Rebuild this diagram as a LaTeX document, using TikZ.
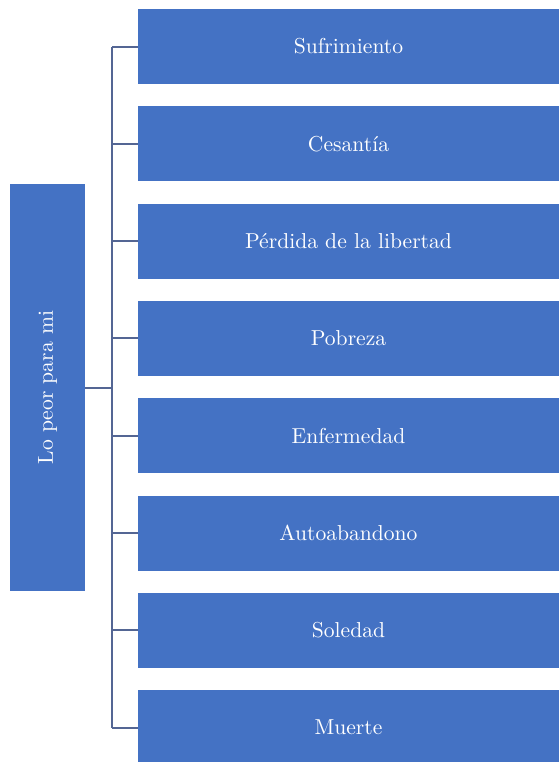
\documentclass[tikz,border=0pt]{standalone}
\usepackage{fontspec}
\usepackage{xcolor}
\usepackage{tikz}
\usetikzlibrary{positioning,calc}

\definecolor{boxblue}{HTML}{4472C4}
\definecolor{linkgray}{RGB}{84,102,148}

\tikzset{
    itembox/.style={fill=boxblue, text=white, inner sep=0pt,
        minimum width=210.5pt, minimum height=37.5pt,
        font=\fontsize{10.8}{13}\selectfont},
    rootbox/.style={fill=boxblue, text=white, inner sep=0pt,
        minimum width=203.5pt, minimum height=37.5pt, rotate=90,
        font=\fontsize{10.8}{13}\selectfont},
    link/.style={draw=linkgray, line width=1pt}
}

\begin{document}
\begin{tikzpicture}[x=0.5pt,y=-0.5pt]
    \useasboundingbox (0,0) rectangle (559,762);

    % Root
    \node[rootbox] (peor) at (47.5, 387.5) {Lo peor para mi};

    % Items
    \foreach \i/\txt in {1/Sufrimiento, 2/Cesantía, 3/Pérdida de la libertad,
        4/Pobreza, 5/Enfermedad, 6/Autoabandono, 7/Soledad, 8/Muerte} {
        \node[itembox] (b\i) at (348.5, {46.5+97.3*(\i-1)}) {\txt};
    }

    % Connectors
    \coordinate (bus) at (112, 387.5);
    \draw[link] (peor.south) -- (bus);
    \draw[link] (b1.west -| bus) -- (b8.west -| bus);
    \foreach \i in {1,...,8} {
        \draw[link] (b\i.west -| bus) -- (b\i.west);
    }
\end{tikzpicture}
\end{document}
